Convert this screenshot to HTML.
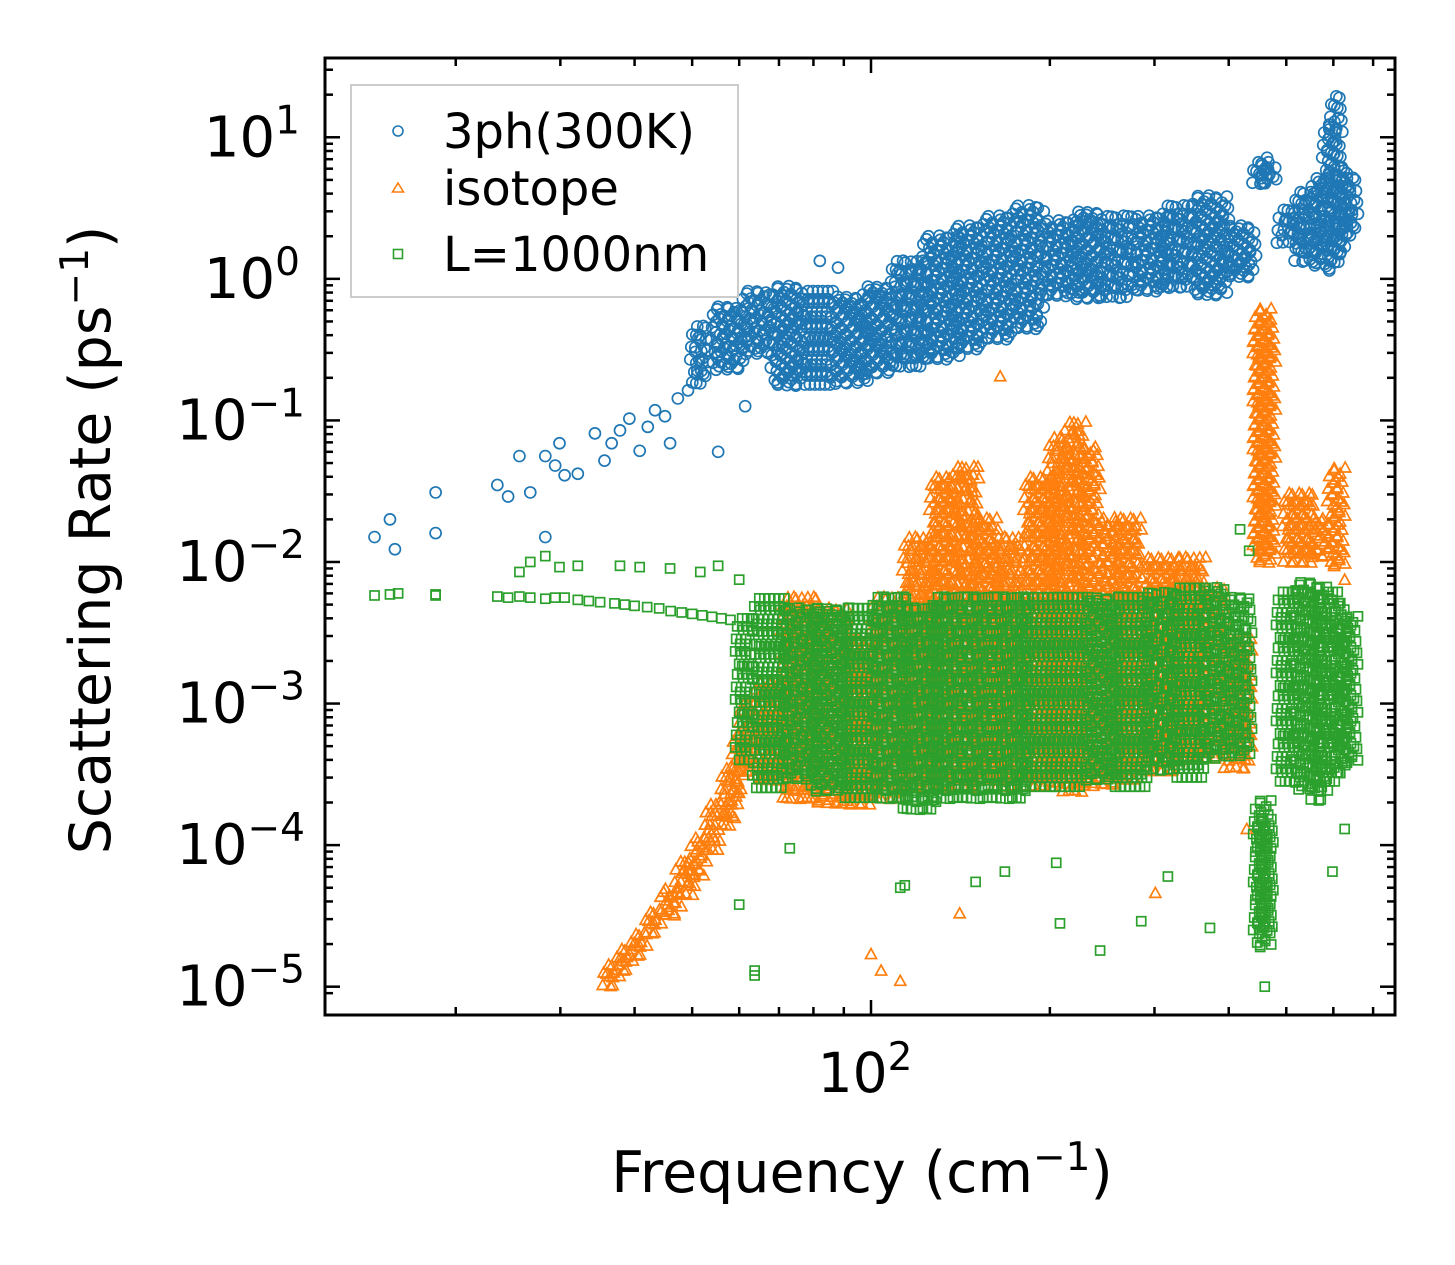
<!DOCTYPE html>
<html><head><meta charset="utf-8"><style>
body{margin:0;background:#fff}
svg{display:block;font-family:"DejaVu Sans","Liberation Sans",sans-serif}
</style></head><body>
<svg id="chart" width="1455" height="1265" xmlns="http://www.w3.org/2000/svg">
<rect width="1455" height="1265" fill="#fff"/>
<g id="marks"></g>
<g id="axes"></g>
<text x="862" y="1192" font-size="57" text-anchor="middle">Frequency (cm<tspan dy="-22" font-size="39">−1</tspan><tspan dy="22">)</tspan></text>
<text transform="translate(110,540) rotate(-90)" font-size="57" text-anchor="middle">Scattering Rate (ps<tspan dy="-22" font-size="39">−1</tspan><tspan dy="22">)</tspan></text>
<g>
<rect x="351" y="85" width="387" height="212" fill="#fff" stroke="#ccc" stroke-width="2"/>
<circle cx="398" cy="131" r="5" fill="none" stroke="#1f77b4" stroke-width="1.6"/>
<text x="443" y="148" font-size="48">3ph(300K)</text>
<path d="M398,183 L403.5,192 L392.5,192 Z" fill="none" stroke="#ff7f0e" stroke-width="1.6"/>
<text x="443" y="205" font-size="48">isotope</text>
<rect x="393.5" y="249.5" width="9" height="9" fill="none" stroke="#2ca02c" stroke-width="1.6"/>
<text x="443" y="271" font-size="48">L=1000nm</text>
</g>
</svg>
<script>
// ---- data ----
const blueBandF  = [51.6,57.9,65,73,82,92,103.5,116,131,147,165,185,208,234,262,295,331,372,418,455,462,468,507,538,570,593,607,621,640];
const blueBandHi = [0.45,0.62,0.80,0.86,0.80,0.73,0.86,1.3,1.95,2.3,2.7,3.2,2.5,2.9,2.7,2.7,3.2,3.75,2.3,6.5,7,6,3,4,5,12,19,6,5];
const blueBandLo = [0.17,0.215,0.275,0.18,0.18,0.17,0.2,0.23,0.275,0.32,0.35,0.45,0.73,0.73,0.73,0.8,0.86,0.73,1.0,4.6,4.5,4.8,1.7,1.3,1.2,1.1,1.3,1.5,2];
const blueF = [14.6,15.5,15.8,18.5,18.5,23.5,24.5,25.6,26.7,28.3,28.3,29.4,29.9,30.5,32.1,34.3,35.6,36.6,37.8,39.2,40.8,42.1,43.3,45,45.9,47.3,49.2,55.3,61.4,82,88];
const blueR = [0.015,0.020,0.0123,0.031,0.016,0.035,0.029,0.056,0.031,0.056,0.015,0.048,0.069,0.041,0.042,0.081,0.052,0.069,0.085,0.103,0.061,0.09,0.118,0.107,0.069,0.143,0.163,0.060,0.126,1.34,1.2];

const orangeBandF  = [36.6,38.7,40.9,43.3,45.9,48.7,51.6,54.7,57.9,60.2,62.5,67.6,75.9,85.3,95.8,107.6,120.9,133,144,155.5,171,192.6,208,220,234,253,273,307,345,380,418,458,462,527,570,609];
const orangeBandHi = [1.4e-5,1.8e-5,2.3e-5,3.3e-5,4.8e-5,7.5e-5,1.1e-4,1.9e-4,3.4e-4,6e-4,1e-3,1.4e-3,5.5e-3,4.6e-3,2.8e-3,5.5e-3,0.0146,0.039,0.046,0.020,0.0146,0.039,0.074,0.095,0.063,0.020,0.020,0.0105,0.0105,6.4e-3,2.8e-3,0.6,0.5,0.03,0.02,0.045];
const orangeBandLo = [1.0e-5,1.3e-5,1.65e-5,2.3e-5,3.2e-5,4.3e-5,5.6e-5,9e-5,1.3e-4,2.2e-4,3.4e-4,2.9e-4,2.0e-4,2.0e-4,2.0e-4,2.2e-4,2.5e-4,2.6e-4,2.6e-4,2.9e-4,2.6e-4,2.6e-4,2.6e-4,2.4e-4,2.6e-4,2.6e-4,2.9e-4,3.4e-4,4.0e-4,4.0e-4,3.4e-4,0.012,0.01,0.01,0.011,0.009];
const orangeF = [165,141,301,100,104,112,429,627,459,460];
const orangeR = [0.205,3.3e-5,4.6e-5,1.7e-5,1.3e-5,1.1e-5,1.3e-4,7.5e-3,0.022,0.028];

const greenBandF  = [61.4,67.6,75.9,85.3,95.8,107.6,120.9,135.8,152.5,171,192.6,216,243,273,307,345,380,418,458,462,507,538,570,593,621,640];
const greenBandHi = [3.9e-3,5.4e-3,4.6e-3,4.6e-3,4.6e-3,5.5e-3,4.6e-3,5.5e-3,5.5e-3,5.5e-3,5.5e-3,5.5e-3,5.5e-3,5.5e-3,5.9e-3,6.4e-3,6.4e-3,5.5e-3,2e-4,1.5e-4,6e-3,7e-3,6.5e-3,6e-3,5e-3,4e-3];
const greenBandLo = [4.0e-4,2.45e-4,2.9e-4,2.45e-4,2.1e-4,2.1e-4,1.77e-4,2.1e-4,2.1e-4,2.1e-4,2.45e-4,2.45e-4,2.9e-4,2.45e-4,3.4e-4,2.9e-4,4.0e-4,4.0e-4,1.8e-5,2.5e-5,2.9e-4,2.5e-4,2e-4,2.9e-4,3e-4,3.5e-4];
const greenF = [14.6,15.5,16,18.5,18.5,23.5,24.5,25.6,26.7,28.3,29.4,30.5,32.1,33.5,35,37,38.5,40,42,44,46,48,50,52,54,56,58,25.6,26.7,28.3,29.9,32.1,37.8,40.8,45.9,51.6,55.3,60,63.7,63.7,60,73,112,114,150,168,205,208,243,285,316,372,460,598,627,418,433];
const greenR = [5.8e-3,5.9e-3,6e-3,5.8e-3,5.9e-3,5.7e-3,5.6e-3,5.7e-3,5.6e-3,5.5e-3,5.6e-3,5.6e-3,5.4e-3,5.3e-3,5.2e-3,5.1e-3,5.0e-3,4.9e-3,4.8e-3,4.7e-3,4.5e-3,4.4e-3,4.3e-3,4.2e-3,4.1e-3,4.0e-3,3.9e-3,0.0085,0.010,0.011,0.0092,0.0094,0.0094,0.0092,0.0090,0.0085,0.0094,0.0075,1.2e-5,1.3e-5,3.8e-5,9.5e-5,5e-5,5.2e-5,5.5e-5,6.5e-5,7.5e-5,2.8e-5,1.8e-5,2.9e-5,6e-5,2.6e-5,1.0e-5,6.5e-5,1.3e-4,0.017,0.012];

const xMinorTicks = [20,30,40,50,60,70,80,90,200,300,400,500,600,700];
const yMajorExp = [-5,-4,-3,-2,-1,0,1];

// ---- axes ----
const L=325,R=1395,T=58,B=1015;
const xMinLog=Math.log10(12.05), xMaxLog=Math.log10(762);
const yMinLog=-5.2, yMaxLog=1.56;
const X=f=>L+(Math.log10(f)-xMinLog)/(xMaxLog-xMinLog)*(R-L);
const Y=r=>B-(Math.log10(r)-yMinLog)/(yMaxLog-yMinLog)*(B-T);
const NS='http://www.w3.org/2000/svg';
const marks=document.getElementById('marks'), axes=document.getElementById('axes');
function mk(tag,attrs,parent){const e=document.createElementNS(NS,tag);for(const k in attrs)e.setAttribute(k,attrs[k]);parent.appendChild(e);return e;}

function marker(kind,x,y,g){
  let e;
  if(kind==='circle') e=mk('circle',{cx:x,cy:y,r:5.5,fill:'none',stroke:'#1f77b4','stroke-width':1.7},g);
  else if(kind==='tri') e=mk('path',{d:`M${x},${y-5.5} L${x+5.5},${y+4.5} L${x-5.5},${y+4.5} Z`,fill:'none',stroke:'#ff7f0e','stroke-width':1.7},g);
  else e=mk('rect',{x:x-4.5,y:y-4.5,width:9,height:9,fill:'none',stroke:'#2ca02c','stroke-width':1.7},g);
  return e;
}
const jit=[0,3,-2,4,-3,1,-4,2];
function drawSeries(kind,name,bF,bHi,bLo,pF,pR){
  const g=mk('g',{},marks);
  
  
  for(let i=0;i<bF.length;i++){
    const cx=X(bF[i]), y1=Y(bHi[i]), y2=Y(bLo[i]);
    const half=(i>0&&i<bF.length-1)?Math.min(16,(X(bF[i+1])-X(bF[i-1]))/4):6;
    let k=0;
    for(let dx=-half;dx<=half;dx+=5){
      for(let y=y1;y<=y2+0.1;y+=6){
        k++;
        const e=marker(kind,cx+dx+jit[k%8],y+jit[(k+3)%8]*0.5,g);
        
        
      }
    }
  }
  for(let i=0;i<pF.length;i++){
    const e=marker(kind,X(pF[i]),Y(pR[i]),g);
    
    
  }
}
drawSeries('circle','series-3ph',blueBandF,blueBandHi,blueBandLo,blueF,blueR);
drawSeries('tri','series-isotope',orangeBandF,orangeBandHi,orangeBandLo,orangeF,orangeR);
drawSeries('square','series-boundary',greenBandF,greenBandHi,greenBandLo,greenF,greenR);

const fr=mk('rect',{x:L,y:T,width:R-L,height:B-T,fill:'none',stroke:'#000','stroke-width':3},axes);


function line(x1,y1,x2,y2,name){const e=mk('line',{x1,y1,x2,y2,stroke:'#000','stroke-width':2.5},axes);}
xMinorTicks.forEach(v=>{const x=X(v);line(x,B,x,B-8,'x-minor-tick');line(x,T,x,T+8,'x-minor-tick');});
{const x=X(100);line(x,B,x,B-15,'x-major-tick');line(x,T,x,T+15,'x-major-tick');
 const t=mk('text',{x:x-6,y:1092,'font-size':55,'text-anchor':'middle'},axes);
 
 
 t.innerHTML='10<tspan dy="-22" font-size="39">2</tspan>';}
yMajorExp.forEach(ex=>{
  const y=Y(Math.pow(10,ex));
  line(L,y,L+15,y,'y-major-tick');line(R,y,R-15,y,'y-major-tick');
  for(let m=2;m<=9;m++){const ym=Y(m*Math.pow(10,ex));if(ym>T&&ym<B){line(L,ym,L+8,ym,'y-minor-tick');line(R,ym,R-8,ym,'y-minor-tick');}}
  const t=mk('text',{x:ex<0?305:300,y:y+19,'font-size':56,'text-anchor':'end'},axes);
  
  
  t.innerHTML='10<tspan dy="-23" font-size="39">'+(ex<0?'−'+(-ex):ex)+'</tspan>';
});
{const y=Y(9e-6);line(L,y,L+8,y,'y-minor-tick');line(R,y,R-8,y,'y-minor-tick');}
</script>
</body></html>
